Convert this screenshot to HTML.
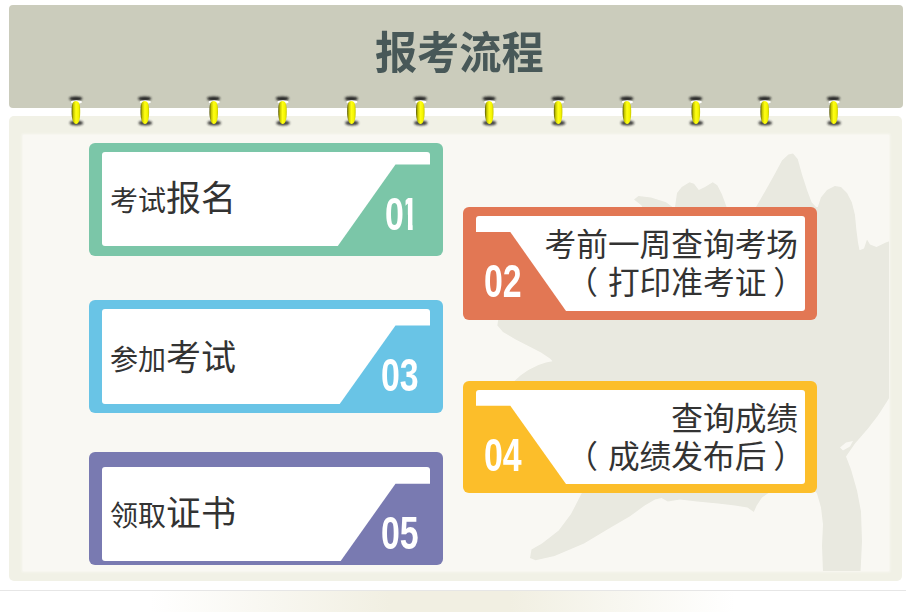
<!DOCTYPE html>
<html lang="zh-CN">
<head>
<meta charset="utf-8">
<title>报考流程</title>
<style>
html,body{margin:0;padding:0;background:#fff;}
body{width:906px;height:612px;position:relative;overflow:hidden;font-family:"Liberation Sans","Noto Sans CJK SC",sans-serif;color:#333;}
.hdr{position:absolute;left:9px;top:5px;width:893.5px;height:102.6px;background:#cbccbc;border-radius:4px;}
.hdr h1{margin:0;position:absolute;left:7px;right:0;top:21px;text-align:center;font-size:42.2px;line-height:56px;transform:scaleY(1.06);font-weight:700;color:#485858;letter-spacing:0;}
.panel{position:absolute;left:9px;top:116px;width:893px;height:464.5px;background:#f1f1e6;border-radius:5px;}
.inner{position:absolute;left:23px;top:134.5px;width:865.5px;height:436px;background:#f9f8f3;overflow:hidden;box-shadow:0 0 2px 1px #f9f8f3;}
.foot{position:absolute;left:0;top:590px;width:906px;height:22px;border-top:1px solid #e6e6e6;background:linear-gradient(90deg,#fff 0,#fff 150px,#f1efe2 390px,#f1efe2 510px,#fff 735px,#fff 100%);}
.card{position:absolute;width:354px;height:113px;border-radius:6px;}
.card .w{position:absolute;left:13px;top:9px;width:328px;height:94px;background:#fff;border-radius:3px;}
.r .w{width:329px;}
.card svg{position:absolute;left:0;top:0;}
.card .n{position:absolute;font-family:"Liberation Sans",sans-serif;font-weight:700;color:#fff;font-size:45.8px;line-height:44px;transform-origin:0 0;transform:scaleX(.739);white-space:nowrap;}
.card .n span{display:inline-block;}
.card .n .o{margin-left:-.111em;clip-path:polygon(29% 0,66.8% 0,66.8% 100%,41.7% 100%,41.7% 50%,29% 50%);}
.l .t{position:absolute;left:21px;top:30px;white-space:nowrap;font-size:28px;line-height:48px;}
.l .t b{font-weight:400;font-size:35px;}
.r .t{position:absolute;right:19px;top:19px;text-align:right;white-space:nowrap;font-size:31.7px;line-height:38px;}
.r .t i{font-style:normal;position:relative;}
.r .t i.a{left:-10px;}
.r .t i.b{left:7px;}
</style>
</head>
<body>
<div class="hdr"><h1>报考流程</h1></div>
<div class="panel"></div>
<div class="inner">
<svg width="865.5" height="436" viewBox="23 134.5 865.5 436" style="position:absolute;left:0;top:0">
<defs><filter id="wb" x="-5%" y="-5%" width="110%" height="110%"><feGaussianBlur stdDeviation="0.5"/></filter></defs>
<path fill="#e9e9e0" fill-rule="evenodd" filter="url(#wb)" d="M634,199 L638.5,195.6 L651,197 L666,201.8 L672.5,206.4 L675,206.4 L677,192.5 L681.8,186.4 L689.5,181.7 L694,183.3 L698.8,189.4 L705,186.4 L712.7,181.7 L717.3,184.8 L722,194 L726.6,206.4 L730,215 L750,215 L756,206.4 L765,191 L774.5,174 L782,160 L788.4,154 L793,153 L797.7,158.5 L802,174 L807,189.4 L811.6,201.8 L816,206.4 L817.8,206.4 L820.9,197 L827,189.4 L834.8,185.4 L841,186.4 L847,192.5 L851.8,201.8 L854.9,214 L856.4,229.6 L858,242 L859.5,249.7 L864,248 L867,239 L870,244 L876.5,246.6 L885.8,242 L890,240.4 L890,396 L887,401 L878,415 L868,428 L855,443 L846,456 L851,469 L857,490 L861,511 L862,541 L860.5,572 L823,572 L822,545 L823,524 L821,507 L817,493 L810,485 L775,485 L768.5,492.6 L762,497 L756.7,505 L753.8,511.5 L747.5,507 L735,505 L718,503 L697,501 L680,499 L667.8,501 L661.5,497.6 L655,499 L644.7,505 L630,515.7 L609,528 L584,543 L554.5,555.5 L535.6,559.7 L530,557.6 L531.5,549 L542,543 L558.7,530 L571,513.6 L581.8,492.6 L586,485 L600,400 L514,390 L514.4,380.6 L520.8,374.7 L528.4,369.6 L538.5,364.6 L546,362 L552.5,360.8 L550,358 L541,352 L528.4,345.5 L515.7,339 L503,331.6 L497.4,325 L498,320 L505,312 L640,300 L645,215 L641.6,205 Z M840,447 L846,442 L853,440.5 L850,446 L843,450 Z"/>
</svg>
</div>
<div class="foot"></div>

<div class="card l" style="left:89px;top:143px;background:#7bc6a8">
  <div class="w" style="top:9px;height:94px"></div>
  <svg width="354" height="113"><path fill="#7bc6a8" d="M306.5,21.5 L342,21.5 L342,104 L248.8,104 L248.8,103 Z"/></svg>
  <div class="t" style="top:31.5px">考试<b>报名</b></div>
  <div class="n" style="left:296.4px;top:49.8px"><span>0</span><span class="o">1</span></div>
</div>
<div class="card l" style="left:89px;top:300px;background:#69c4e6">
  <div class="w" style="top:9px;height:95px"></div>
  <svg width="354" height="113"><path fill="#69c4e6" d="M306.5,25.4 L342,25.4 L342,105 L250.7,105 L250.7,104 Z"/></svg>
  <div class="t" style="top:34px">参加<b>考试</b></div>
  <div class="n" style="left:292.4px;top:53.9px">03</div>
</div>
<div class="card l" style="left:89px;top:452px;background:#797ab1">
  <div class="w" style="top:15px;height:94px"></div>
  <svg width="354" height="113"><path fill="#797ab1" d="M306.5,31.7 L342,31.7 L342,110 L251.7,110 L251.7,109 Z"/></svg>
  <div class="t" style="top:38px">领取<b>证书</b></div>
  <div class="n" style="left:292px;top:59.6px">05</div>
</div>
<div class="card r" style="left:463px;top:207px;height:113px;background:#e27754">
  <div class="w" style="top:9px;height:95px"></div>
  <svg width="354" height="113"><path fill="#e27754" d="M12,25 L47.3,25 L103,104 L103,105 L12,105 Z"/></svg>
  <div class="t" style="top:19px">考前一周查询考场<br><i class="a">（</i>打印准考证<i class="b">）</i></div>
  <div class="n" style="left:20.9px;top:52.8px">02</div>
</div>
<div class="card r" style="left:463px;top:381px;height:112px;background:#fcbe2a">
  <div class="w" style="top:9px;height:94px"></div>
  <svg width="354" height="112"><path fill="#fcbe2a" d="M12,24.7 L47.3,24.7 L103,103 L103,104 L12,104 Z"/></svg>
  <div class="t" style="top:19px">查询成绩<br><i class="a">（</i>成绩发布后<i class="b">）</i></div>
  <div class="n" style="left:20.9px;top:52.8px">04</div>
</div>

<svg width="906" height="140" style="position:absolute;left:0;top:0;pointer-events:none">
<defs>
<linearGradient id="yg" x1="0" x2="1" y1="0" y2="0"><stop offset="0" stop-color="#55550a"/><stop offset=".22" stop-color="#c8c800"/><stop offset=".5" stop-color="#ffff14"/><stop offset=".8" stop-color="#f4f400"/><stop offset="1" stop-color="#c4c400"/></linearGradient>
<filter id="bl" x="-50%" y="-50%" width="200%" height="200%"><feGaussianBlur stdDeviation="0.9"/></filter>
<g id="rg">
<ellipse cx="10" cy="4.6" rx="6.6" ry="2.2" fill="#222" filter="url(#bl)"/>
<ellipse cx="10.6" cy="29" rx="6.8" ry="2.5" fill="#222" opacity=".85" filter="url(#bl)"/>
<ellipse cx="10.6" cy="8" rx="5.6" ry="1.7" fill="#fff"/>
<path d="M10,7 C13.4,7 14.4,10.5 14.4,18 C14.4,25.5 12.9,30 10.3,30 C7.7,30 5.8,25.5 5.8,18 C5.8,10.5 6.6,7 10,7 Z" fill="url(#yg)"/>
</g>
</defs>
<use href="#rg" x="65.8" y="94"/>
<use href="#rg" x="134.7" y="94"/>
<use href="#rg" x="203.6" y="94"/>
<use href="#rg" x="272.4" y="94"/>
<use href="#rg" x="341.3" y="94"/>
<use href="#rg" x="410.2" y="94"/>
<use href="#rg" x="479.1" y="94"/>
<use href="#rg" x="548.0" y="94"/>
<use href="#rg" x="616.8" y="94"/>
<use href="#rg" x="685.7" y="94"/>
<use href="#rg" x="754.6" y="94"/>
<use href="#rg" x="823.5" y="94"/>
</svg>
</body>
</html>
